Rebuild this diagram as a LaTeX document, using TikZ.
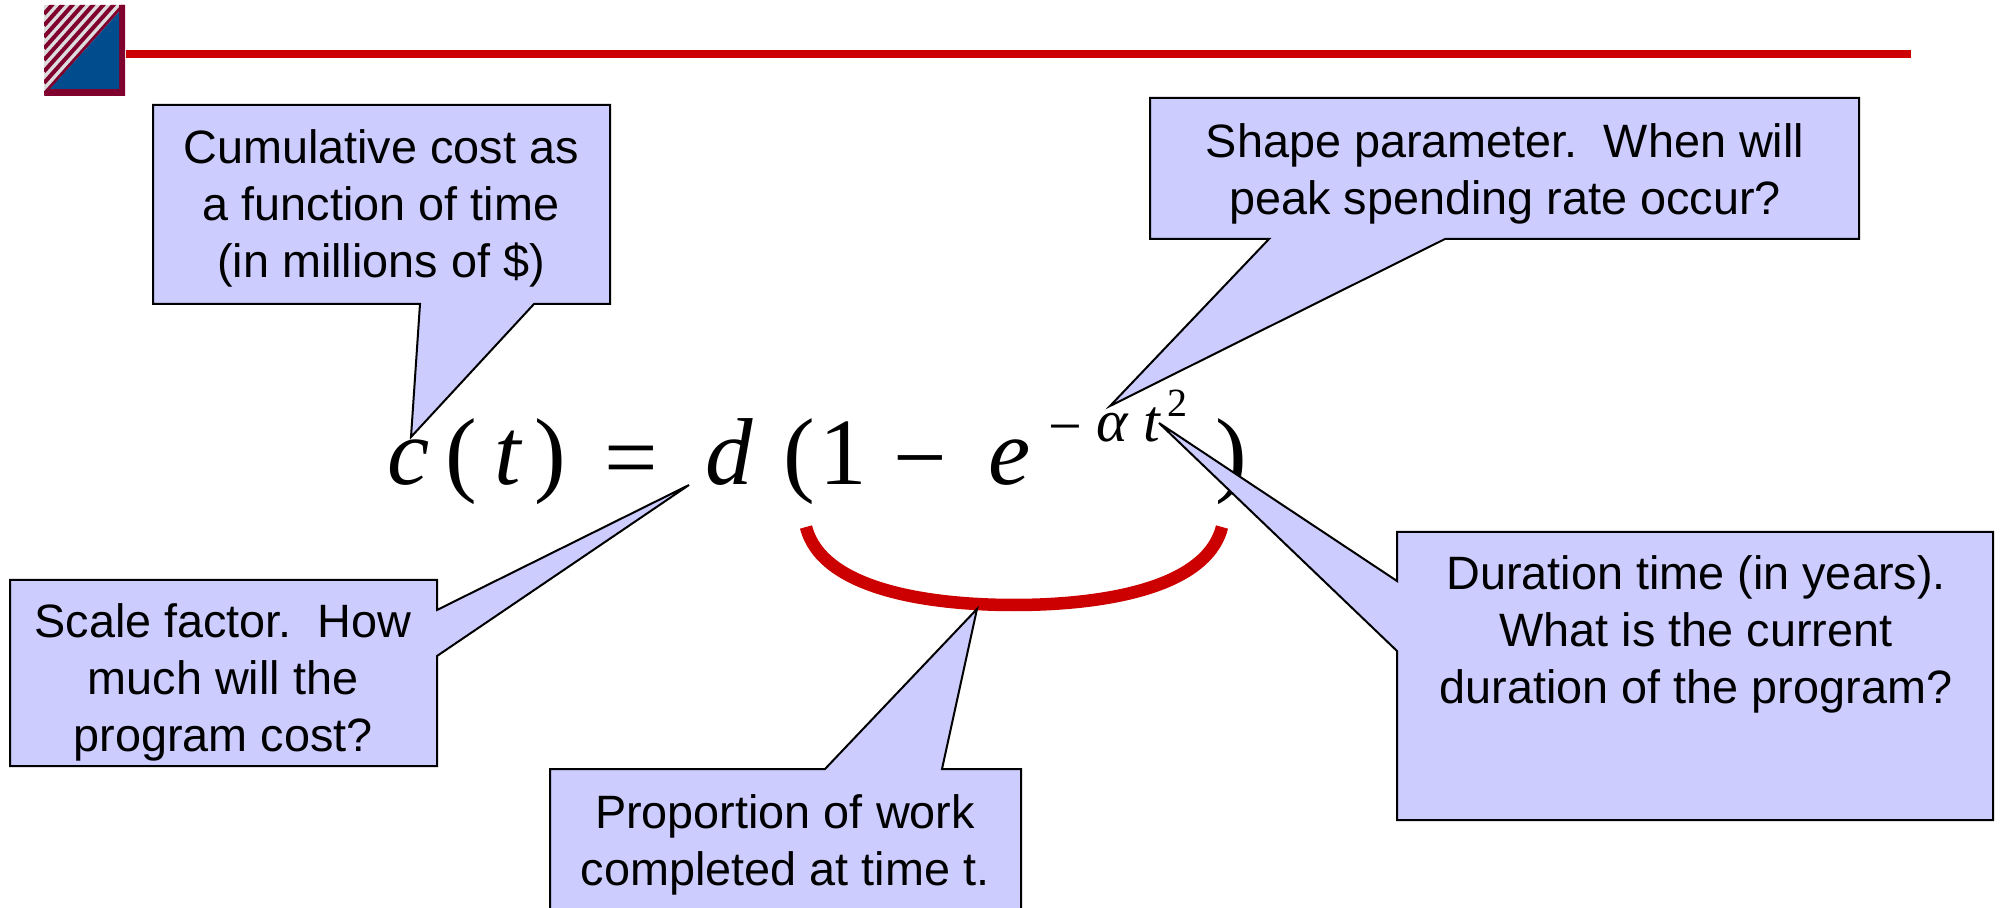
\documentclass[tikz,border=0pt]{standalone}
\usepackage{fontspec}
\setmainfont{Liberation Sans}
\newfontfamily\eqfont{Liberation Serif}
\usetikzlibrary{positioning}
\definecolor{boxblue}{HTML}{CCCCFF}
\definecolor{barred}{HTML}{CC0000}
\definecolor{logoblue}{HTML}{004C8C}
\definecolor{logomaroon}{HTML}{80002E}
\definecolor{logogray}{HTML}{DDDDDD}

\newcommand{\eqmain}{\eqfont\fontsize{47.5}{50}\selectfont}
\newcommand{\eqsup}{\eqfont\fontsize{30}{32}\selectfont}
\newcommand{\eqsupsup}{\eqfont\fontsize{20}{22}\selectfont}

\begin{document}
\begin{tikzpicture}[x=0.5pt,y=-0.5pt,
    calloutbox/.style={fill=boxblue,draw=black,line width=1pt,line join=miter},
    callouttext/.style={align=center,inner sep=0pt,font=\fontsize{23.4}{28.5}\selectfont},
    eqglyph/.style={anchor=base west,inner sep=0pt}]
  \clip (0,0) rectangle (2002,908);
  \fill[white] (0,0) rectangle (2002,908);

  % Logo and title rule.
  \fill[logogray] (44,5) rectangle (125,96);
  \begin{scope}
    \clip (44,5) -- (125,5) -- (44,96) -- cycle;
    \foreach \k in {0,...,9}{
      \draw[logomaroon,line width=2pt] (44,{14+11.5*\k}) -- ({44+100},{14+11.5*\k-100*91/81});
    }
  \end{scope}
  \fill[logomaroon] (44,96) -- (125,96) -- (125,5) -- (119,5) -- (119,89) -- (50,89) -- cycle;
  \fill[logoblue] (119,12) -- (119,89) -- (50,89) -- cycle;
  \fill[barred] (126,50) rectangle (1911,58);

  % Equation, one glyph at a time.
  \foreach \nm/\xx/\yy/\glyph in {cc/387.5/485/\textit{c},lpa/445/485/(,tt/494/485/\textit{t},rpa/534/485/),
      eq/604/490/=,dd/705/485/\textit{d},lpb/783.5/485/(,one/819/485/1,minus/893/490/−,
      ee/988/485/\textit{e},rpb/1215/485/)}{
    \node[eqglyph,font=\eqmain] (\nm) at (\xx,\yy) {\glyph};
  }
  \foreach \nm/\xx/\yy/\glyph in {supminus/1048/447/−,alpha/1096/442/\textit{α},supt/1143/442/\textit{t}}{
    \node[eqglyph,font=\eqsup] (\nm) at (\xx,\yy) {\glyph};
  }
  \node[eqglyph,font=\eqsupsup] (two) at (1167,417) {2};

  % Brace under the bracket.
  \draw[barred,line width=6.25pt] (806,527) .. controls (822,590) and (930,605) .. (1014,605)
    .. controls (1098,605) and (1206,590) .. (1222,527);

  % Callouts.
  \draw[calloutbox] (153,105) -- (610,105) -- (610,304) -- (534,304) -- (411,437) -- (420,304) -- (153,304) -- cycle;
  \node[callouttext] (cost) at (381,208) {Cumulative cost as\\a function of time\\(in millions of \$)};

  \draw[calloutbox] (1150,98) -- (1859,98) -- (1859,239) -- (1445,239) -- (1110,406) -- (1269,239) -- (1150,239) -- cycle;
  \node[callouttext] (shape) at (1505,174) {Shape parameter.\ \ When will\\peak spending rate occur?};

  \draw[calloutbox] (10,580) -- (437,580) -- (437,610) -- (689,485) -- (437,656) -- (437,766) -- (10,766) -- cycle;
  \node[callouttext] (scale) at (223,682) {Scale factor.\ \ How\\much will the\\program cost?};

  \draw[calloutbox] (550,769) -- (825,769) -- (977,609) -- (942,769) -- (1021,769) -- (1021,930) -- (550,930) -- cycle;
  \node[callouttext] (work) at (785,845) {Proportion of work\\completed at time t.};

  \draw[calloutbox] (1397,532) -- (1993,532) -- (1993,820) -- (1397,820) -- (1397,651) -- (1159,423) -- (1397,581) -- cycle;
  \node[callouttext] (duration) at (1696,634) {Duration time (in years).\\What is the current\\duration of the program?};
\end{tikzpicture}
\end{document}
